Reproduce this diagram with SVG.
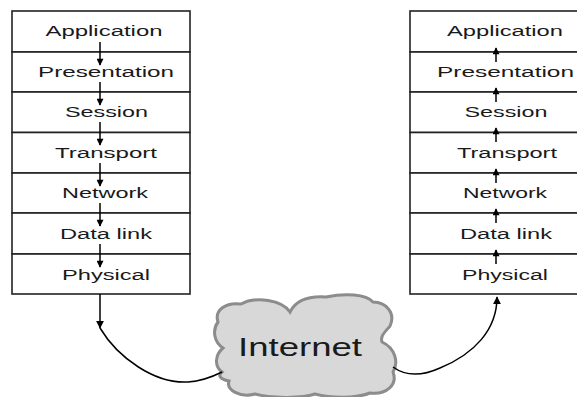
<svg xmlns="http://www.w3.org/2000/svg" width="577" height="397" viewBox="0 0 577 397">
<defs>
<style>
.box{fill:#fff;stroke:#222;stroke-width:1.6}
.lbl{font-family:"Liberation Sans",Arial,sans-serif;font-size:14px;fill:#1a1a1a;text-anchor:middle}
.arr{stroke:#000;stroke-width:1.5;fill:none}
.con{stroke:#000;stroke-width:1.5;fill:none}
.cloud{fill:#d8d8d8;stroke:#8c8c8c;stroke-width:3}
.cl{font-family:"Liberation Sans",Arial,sans-serif;font-size:25px;fill:#1a1a1a}
</style>
<marker id="ah" viewBox="0 0 10 10" refX="9" refY="5" markerWidth="8" markerHeight="7" orient="auto" markerUnits="userSpaceOnUse">
<path d="M0,0 L10,5 L0,10 Z" fill="#000"/>
</marker>
<marker id="ahb" viewBox="0 0 10 10" refX="9" refY="5" markerWidth="8" markerHeight="8" orient="auto" markerUnits="userSpaceOnUse">
<path d="M0,0 L10,5 L0,10 Z" fill="#000"/>
</marker>
</defs>
<rect width="577" height="397" fill="#fff"/>

<g id="left-stack">
<g id="l-application"><rect class="box" x="12" y="11" width="178" height="41"/><text class="lbl" x="104" y="36" textLength="117" lengthAdjust="spacingAndGlyphs">Application</text></g>
<g id="l-presentation"><rect class="box" x="12" y="52" width="178" height="40"/><text class="lbl" x="106" y="77" textLength="136" lengthAdjust="spacingAndGlyphs">Presentation</text></g>
<g id="l-session"><rect class="box" x="12" y="92" width="178" height="40.5"/><text class="lbl" x="106.5" y="117" textLength="83" lengthAdjust="spacingAndGlyphs">Session</text></g>
<g id="l-transport"><rect class="box" x="12" y="132.5" width="178" height="40.5"/><text class="lbl" x="106" y="158" textLength="102" lengthAdjust="spacingAndGlyphs">Transport</text></g>
<g id="l-network"><rect class="box" x="12" y="173" width="178" height="40"/><text class="lbl" x="105" y="198" textLength="86" lengthAdjust="spacingAndGlyphs">Network</text></g>
<g id="l-datalink"><rect class="box" x="12" y="213" width="178" height="41"/><text class="lbl" x="106" y="238.5" textLength="92" lengthAdjust="spacingAndGlyphs">Data link</text></g>
<g id="l-physical"><rect class="box" x="12" y="254" width="178" height="40"/><text class="lbl" x="106" y="279.5" textLength="88" lengthAdjust="spacingAndGlyphs">Physical</text></g>
</g>

<g id="right-stack">
<g id="r-application"><rect class="box" x="410" y="11" width="180" height="41"/><text class="lbl" x="505" y="36" textLength="116" lengthAdjust="spacingAndGlyphs">Application</text></g>
<g id="r-presentation"><rect class="box" x="410" y="52" width="180" height="40"/><text class="lbl" x="505.5" y="77" textLength="137" lengthAdjust="spacingAndGlyphs">Presentation</text></g>
<g id="r-session"><rect class="box" x="410" y="92" width="180" height="40.5"/><text class="lbl" x="506" y="117" textLength="83" lengthAdjust="spacingAndGlyphs">Session</text></g>
<g id="r-transport"><rect class="box" x="410" y="132.5" width="180" height="40.5"/><text class="lbl" x="507" y="158" textLength="100" lengthAdjust="spacingAndGlyphs">Transport</text></g>
<g id="r-network"><rect class="box" x="410" y="173" width="180" height="40"/><text class="lbl" x="505" y="198" textLength="84" lengthAdjust="spacingAndGlyphs">Network</text></g>
<g id="r-datalink"><rect class="box" x="410" y="213" width="180" height="41"/><text class="lbl" x="506" y="238.5" textLength="92" lengthAdjust="spacingAndGlyphs">Data link</text></g>
<g id="r-physical"><rect class="box" x="410" y="254" width="180" height="40"/><text class="lbl" x="505" y="279.5" textLength="86" lengthAdjust="spacingAndGlyphs">Physical</text></g>
</g>

<g id="cloud">
<path class="cloud" d="M222,372 C214,366 215,355 223,348 C214,342 212,330 218,322 C214,310 226,302 241,304 C256,296 282,300 290,312 C296,300 310,296 326,297 C345,293 366,294 373,302 C386,302 396,313 390,326 C385,332 380,336 382,342 C395,348 399,362 393,372 C398,385 386,395 370,393 C355,399 330,398 315,394 C300,399 270,398 255,394 C240,398 226,390 229,381 C219,379 218,375 222,372 Z"/>
<text class="cl" x="300" y="356" text-anchor="middle" textLength="124" lengthAdjust="spacingAndGlyphs">Internet</text>
</g>

<g id="connectors">
<line class="arr" x1="100" y1="42" x2="100" y2="65" marker-end="url(#ah)"/>
<line class="arr" x1="100" y1="82" x2="100" y2="105" marker-end="url(#ah)"/>
<line class="arr" x1="100" y1="122" x2="100" y2="145" marker-end="url(#ah)"/>
<line class="arr" x1="100" y1="163" x2="100" y2="186" marker-end="url(#ah)"/>
<line class="arr" x1="100" y1="203" x2="100" y2="226" marker-end="url(#ah)"/>
<line class="arr" x1="100" y1="244" x2="100" y2="267" marker-end="url(#ah)"/>
<line class="arr" x1="496" y1="62" x2="496" y2="48" marker-end="url(#ah)"/>
<line class="arr" x1="496" y1="102" x2="496" y2="88" marker-end="url(#ah)"/>
<line class="arr" x1="496" y1="142" x2="496" y2="128" marker-end="url(#ah)"/>
<line class="arr" x1="496" y1="183" x2="496" y2="169" marker-end="url(#ah)"/>
<line class="arr" x1="496" y1="223" x2="496" y2="209" marker-end="url(#ah)"/>
<line class="arr" x1="496" y1="264" x2="496" y2="250" marker-end="url(#ah)"/>
<line class="con" x1="100" y1="294" x2="100" y2="328" marker-end="url(#ahb)"/>
<path class="con" d="M100,328 C118,358 155,384 188,382 C203,381 214,376 222,372"/>
<path class="con" d="M393,367 C404,375 420,377 440,368 C474,354 497,330 497,297" marker-end="url(#ahb)"/>
</g>
</svg>
